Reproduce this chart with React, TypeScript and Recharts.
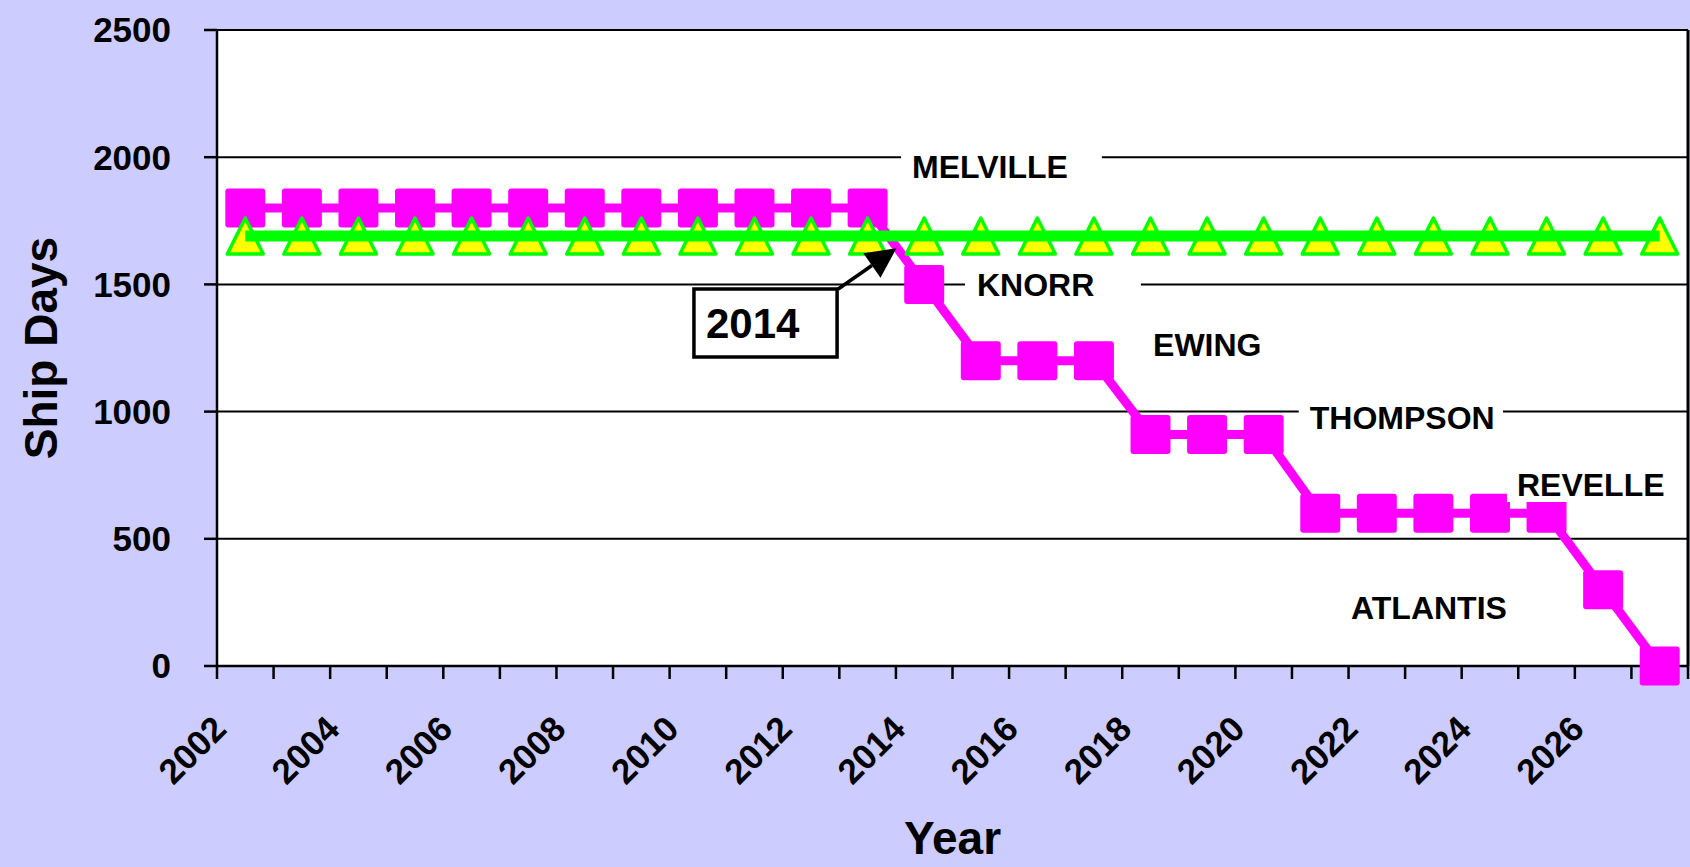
import React from "react";
import {
  LineChart,
  Line,
  XAxis,
  YAxis,
  CartesianGrid,
  ReferenceArea,
  ReferenceLine,
} from "recharts";

// years on the category axis
const years = [
  2002, 2003, 2004, 2005, 2006, 2007, 2008, 2009, 2010, 2011, 2012, 2013, 2014,
  2015, 2016, 2017, 2018, 2019, 2020, 2021, 2022, 2023, 2024, 2025, 2026, 2027,
];

// ship days available from the existing fleet (magenta squares)
const fleetDays = [
  1800, 1800, 1800, 1800, 1800, 1800, 1800, 1800, 1800, 1800, 1800, 1800, 1500,
  1200, 1200, 1200, 910, 910, 910, 600, 600, 600, 600, 600, 300, 0,
];

// ship days needed (green triangles)
const neededDays = [
  1690, 1690, 1690, 1690, 1690, 1690, 1690, 1690, 1690, 1690, 1690, 1690, 1690,
  1690, 1690, 1690, 1690, 1690, 1690, 1690, 1690, 1690, 1690, 1690, 1690, 1690,
];

const yTicks = [0, 500, 1000, 1500, 2000, 2500];
const labelYears = [2002, 2004, 2006, 2008, 2010, 2012, 2014, 2016, 2018, 2020, 2022, 2024, 2026];
const boundaryTicks = [
  2001.5, 2002.5, 2003.5, 2004.5, 2005.5, 2006.5, 2007.5, 2008.5, 2009.5, 2010.5,
  2011.5, 2012.5, 2013.5, 2014.5, 2015.5, 2016.5, 2017.5, 2018.5, 2019.5, 2020.5,
  2021.5, 2022.5, 2023.5, 2024.5, 2025.5, 2026.5, 2027.5,
];

// ship name notes, placed in data units
const shipNotes = [
  { name: "MELVILLE", x1: 2013.59, x2: 2017.14, y1: 1884, y2: 2042, pad: 11 },
  { name: "KNORR", x1: 2014.72, x2: 2017.83, y1: 1421, y2: 1579, pad: 12 },
  { name: "EWING", x1: 2017.85, x2: 2020.02, y1: 1185, y2: 1343, pad: 11 },
  { name: "THOMPSON", x1: 2020.62, x2: 2024.23, y1: 898, y2: 1055, pad: 11 },
  { name: "REVELLE", x1: 2024.3, x2: 2027.27, y1: 645, y2: 778, pad: 10 },
  { name: "ATLANTIS", x1: 2021.35, x2: 2024.53, y1: 149, y2: 307, pad: 11 },
];

const data = years.map((year, i) => ({
  year,
  fleet: fleetDays[i],
  needed: neededDays[i],
}));

const FONT = "'Liberation Sans', Arial, Helvetica, sans-serif";

const SquareDot = (props: any) => {
  const { cx, cy, index } = props;
  if (cx == null || cy == null) return <g key={`sq-${index}`} />;
  return (
    <rect key={`sq-${index}`} x={cx - 20} y={cy - 19.5} width={40} height={39} rx={3} fill="#ff00ff" />
  );
};

const TriangleDot = (props: any) => {
  const { cx, cy, index } = props;
  if (cx == null || cy == null) return <g key={`tr-${index}`} />;
  const pts = `${cx},${cy - 18} ${cx - 18},${cy + 18} ${cx + 18},${cy + 18}`;
  return (
    <polygon key={`tr-${index}`} points={pts} fill="#ffff00" stroke="#00ff00" strokeWidth={3.5} strokeLinejoin="round" />
  );
};

const XTick = (props: any) => {
  const { x, y, payload } = props;
  const v = payload.value;
  if (boundaryTicks.includes(v)) {
    return <line x1={x} y1={y} x2={x} y2={y + 13} stroke="#000" strokeWidth={2.5} />;
  }
  if (labelYears.includes(v)) {
    const ax = x - 17;
    const ay = y + 65;
    return (
      <text
        x={ax}
        y={ay}
        transform={`rotate(-45 ${ax} ${ay})`}
        textAnchor="end"
        fontSize={35}
        fontWeight="bold"
        fill="#000"
      >
        {v}
      </text>
    );
  }
  return null;
};

const Arrow = (props: any) => {
  const { x1, y1, x2, y2 } = props;
  const dx = x2 - x1;
  const dy = y2 - y1;
  const len = Math.sqrt(dx * dx + dy * dy) || 1;
  const ux = dx / len;
  const uy = dy / len;
  const bx = x2 - ux * 30;
  const by = y2 - uy * 30;
  const head = `${x2},${y2} ${bx - uy * 15},${by + ux * 15} ${bx + uy * 15},${by - ux * 15}`;
  return (
    <g>
      <line x1={x1} y1={y1} x2={bx} y2={by} stroke="#000" strokeWidth={3.5} />
      <polygon points={head} fill="#000" />
    </g>
  );
};

export default function App() {
  return (
    <div
      style={{
        position: "absolute",
        left: 0,
        top: 0,
        width: 1690,
        height: 867,
        background: "#ccccff",
        fontFamily: FONT,
      }}
    >
      <LineChart
        width={1690}
        height={867}
        data={data}
        margin={{ top: 30, right: 2, left: 0, bottom: 0 }}
      >
        <CartesianGrid vertical={false} stroke="#000" strokeWidth={2} fill="#ffffff" fillOpacity={1} />
        <XAxis
          dataKey="year"
          type="number"
          domain={[2001.5, 2027.5]}
          ticks={[...boundaryTicks, ...labelYears]}
          interval={0}
          tickLine={false}
          tickSize={0}
          tickMargin={0}
          tick={<XTick />}
          axisLine={{ stroke: "#000", strokeWidth: 2.5 }}
          height={201}
          label={{
            value: "Year",
            position: "insideBottom",
            offset: 13,
            fill: "#000",
            fontSize: 46,
            fontWeight: "bold",
          }}
        />
        <YAxis
          domain={[0, 2500]}
          ticks={yTicks}
          interval={0}
          width={217}
          tickSize={13}
          tickMargin={33}
          tick={{ fill: "#000", fontSize: 35, fontWeight: "bold" }}
          tickLine={{ stroke: "#000", strokeWidth: 2.5 }}
          axisLine={{ stroke: "#000", strokeWidth: 2.5 }}
          label={{
            content: (p: any) => {
              const vb = p.viewBox || { x: 0, y: 30, width: 217, height: 636 };
              const lx = vb.x + 57;
              const ly = vb.y + vb.height / 2;
              return (
                <text
                  x={lx}
                  y={ly}
                  transform={`rotate(-90 ${lx} ${ly})`}
                  textAnchor="middle"
                  fontSize={46}
                  fontWeight="bold"
                  fill="#000"
                >
                  Ship Days
                </text>
              );
            },
          }}
        />
        <ReferenceLine x={2027.5} stroke="#000" strokeWidth={3} ifOverflow="visible" />
        <Line
          type="linear"
          dataKey="fleet"
          stroke="#ff00ff"
          strokeWidth={9}
          dot={SquareDot}
          activeDot={false}
          isAnimationActive={false}
          zIndex={600}
        />
        <Line
          type="linear"
          dataKey="needed"
          stroke="#00ff00"
          strokeWidth={11}
          dot={TriangleDot}
          activeDot={false}
          isAnimationActive={false}
          zIndex={610}
        />
        {shipNotes.map((n) => (
          <ReferenceArea
            key={n.name}
            x1={n.x1}
            x2={n.x2}
            y1={n.y1}
            y2={n.y2}
            fill="#ffffff"
            fillOpacity={1}
            stroke="none"
            ifOverflow="visible"
            zIndex={700}
            label={{
              value: n.name,
              position: "insideLeft",
              offset: n.pad,
              fill: "#000",
              fontSize: 32,
              fontWeight: "bold",
            }}
          />
        ))}
        <ReferenceArea
          x1={2009.93}
          x2={2012.46}
          y1={1215}
          y2={1482}
          fill="#ffffff"
          fillOpacity={1}
          stroke="#000"
          strokeWidth={3.5}
          ifOverflow="visible"
          zIndex={700}
          label={{
            value: "2014",
            position: "insideLeft",
            offset: 12,
            fill: "#000",
            fontSize: 42,
            fontWeight: "bold",
          }}
        />
        <ReferenceLine
          segment={[
            { x: 2012.48, y: 1482 },
            { x: 2013.51, y: 1642 },
          ]}
          ifOverflow="visible"
          zIndex={800}
          shape={Arrow}
        />
      </LineChart>
    </div>
  );
}
